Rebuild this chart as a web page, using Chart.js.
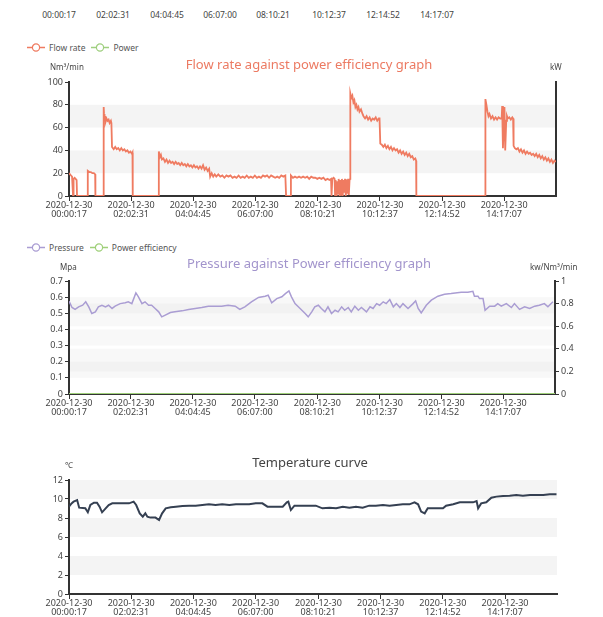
<!DOCTYPE html>
<html>
<head>
<meta charset="utf-8">
<title>Flow, pressure and temperature</title>
<script src="https://cdn.jsdelivr.net/npm/chart.js@4.4.1/dist/chart.umd.min.js"></script>
<style>
  html, body { margin: 0; padding: 0; background: #fff; }
  body { width: 603px; height: 617px; position: relative; overflow: hidden; font-family: "Noto Sans", sans-serif; }
  canvas { position: absolute; left: 0; }
  .t { position: absolute; white-space: nowrap; line-height: 1; transform: translate(-50%, -50%); }
  .tl { position: absolute; white-space: nowrap; line-height: 1; transform: translateY(-50%); }
  .stamp { font-size: 8.5px; color: #444; }
  .title { font-size: 13px; }
  .unit { font-size: 8px; color: #444; }
  .legend { position: absolute; display: flex; align-items: center; gap: 6px; font-size: 8.5px; color: #555; transform: translateY(-50%); }
  .legend span { display: flex; align-items: center; gap: 4px; }
</style>
</head>
<body>
<canvas id="flowChart" width="603" height="150" style="top:72px"></canvas>
<canvas id="pressureChart" width="603" height="149" style="top:271px"></canvas>
<canvas id="tempChart" width="603" height="150" style="top:470px"></canvas>
<script>
// x axis, minutes after 2020-12-30 00:00:17
const tickDate = '2020-12-30';
const tickTimes = ['00:00:17', '02:02:31', '04:04:45', '06:07:00', '08:10:21', '10:12:37', '12:14:52', '14:17:07'];
const tickMinutes = [0, 122.23, 244.47, 366.72, 490.07, 612.33, 734.58, 856.83];
const lastMinute = 959;

// stamps left over from the chart above (cut off)
const topStamps = ['00:00:17', '02:02:31', '04:04:45', '06:07:00', '08:10:21', '10:12:37', '12:14:52', '14:17:07'];
const topStampX = [59, 113, 167, 220, 273, 329, 383, 437];

// Flow rate (Nm³/min)
const flowTime = [0, 2, 4, 6, 7.5, 8, 9, 11, 13, 15, 15.8, 36.8, 37, 40, 43, 46, 49, 51.5, 52, 68,
  68.3, 69, 70, 71, 72, 74, 76, 78, 80, 82.5, 83.5, 84.7, 88, 91, 94, 97, 100, 103, 106, 109, 112, 115, 118, 121, 124, 125, 125.5,
  176.5, 176.9, 179, 181, 183, 186, 189, 192, 195, 198, 201, 204, 207, 210, 213, 216, 219, 222, 225, 228, 231, 234, 237, 240,
  243, 246, 249, 252, 255, 258, 261, 264, 267, 270, 273, 276, 278, 281, 284, 287, 290, 294, 298, 302, 306, 310, 314, 318, 322,
  326, 330, 334, 338, 342, 346, 350, 354, 358, 362, 366, 370, 374, 378, 382, 386, 390, 394, 398, 402, 406, 410, 414, 418, 422,
  426, 427, 427.5, 436, 437, 441, 445, 449, 453, 457, 461, 465, 469, 473, 477, 481, 485, 489, 493, 497, 501, 505, 509, 513, 516,
  517, 518.5, 521, 523, 524, 525, 527, 528.5, 530, 531, 533, 534.5, 536, 537.5, 539, 540.5, 542, 543.5, 545, 546.5, 548, 549.5,
  551, 552.5, 553.5, 554, 556, 558, 560, 562, 564, 566, 568, 570, 572, 575, 578, 580, 583, 586, 589, 592, 595, 598, 601, 604,
  607, 610, 611.5, 613, 616, 619, 622, 625, 628, 631, 634, 637, 640, 643, 646, 649, 652, 655, 658, 661, 664, 667, 670, 673,
  676, 679, 682, 683.5, 684, 819.5, 820, 822, 824, 826, 828, 831, 834, 837, 840, 843, 846, 849, 852, 853, 854.5, 856, 857.5,
  859, 861, 862.5, 864, 867, 870, 873, 874.5, 875.5, 878, 881, 884, 887, 890, 893, 896, 899, 902, 905, 908, 911, 914, 917,
  920, 923, 926, 929, 932, 935, 938, 941, 944, 947, 950, 953, 956, 959];
const flowRate = [20, 19, 18, 17, 17, 0, 15, 16, 15, 14, 0, 0, 22, 21, 21, 20, 20, 19, 0, 0,
  78, 72, 66, 70, 65, 68, 66, 67, 64, 66, 64, 43, 41, 43, 41, 42, 40, 42, 40, 41, 39, 40, 38, 39, 37, 38, 0,
  0, 39, 34, 36, 32, 33, 30, 32, 29, 31, 29, 30, 28, 30, 28, 29, 27, 29, 27, 28, 26, 28, 26, 27,
  25, 27, 25, 26, 24, 26, 24, 27, 23, 25, 22, 24, 17, 20, 17, 19, 17, 19, 17, 18, 16, 18, 17, 18, 16,
  17, 16, 18, 16, 17, 16, 18, 16, 17, 16, 18, 16, 17, 16, 18, 17, 18, 16, 18, 17, 16, 17, 16, 18, 17,
  18, 18, 0, 0, 18, 16, 17, 16, 17, 16, 17, 16, 17, 15, 17, 16, 16, 15, 16, 15, 16, 14, 15, 14, 15,
  0, 15, 16, 15, 0, 14, 0, 13, 2, 15, 0, 14, 1, 15, 0, 14, 3, 15, 0, 14, 2, 15,
  1, 14, 15, 90, 86, 88, 82, 84, 78, 80, 76, 78, 74, 76, 72, 70, 68, 70, 67, 69, 66, 68, 67, 69,
  66, 68, 68, 46, 45, 43, 45, 42, 44, 41, 43, 40, 42, 40, 41, 38, 40, 37, 39, 36, 38, 35, 37, 34,
  35, 32, 33, 31, 0, 0, 85, 80, 74, 70, 72, 68, 70, 67, 69, 67, 69, 68, 68, 79, 42, 60, 78,
  40, 66, 70, 68, 69, 67, 69, 68, 44, 42, 41, 42, 39, 41, 38, 40, 37, 39, 37, 38, 36, 37, 35,
  37, 34, 36, 33, 35, 32, 34, 31, 33, 30, 32, 29, 31, 30];
const powerKW = [];

// Pressure (Mpa) and power efficiency (kw/Nm³/min)
const pressureTime = [0, 6, 12, 19, 27, 33, 39, 45, 52, 58, 65, 72, 78, 85, 91, 101, 111, 117, 124, 132, 137, 144, 150, 157,
  163, 170, 177, 183, 190, 200, 209, 223, 236, 249, 262, 275, 288, 301, 314, 328, 337, 347, 360, 374, 387, 393, 400, 410,
  420, 427, 434, 439, 446, 456, 466, 472, 479, 485, 492, 498, 505, 511, 518, 525, 531, 538, 544, 551, 557, 564, 571, 577,
  587, 594, 600, 607, 613, 620, 626, 633, 640, 646, 653, 659, 669, 679, 684, 689, 695, 705, 715, 728, 741, 754, 774, 787,
  797, 800, 807, 810, 817, 821, 830, 840, 846, 853, 863, 873, 879, 889, 899, 909, 919, 928, 938, 945, 955];
const pressure = [0.575, 0.536, 0.524, 0.54, 0.55, 0.571, 0.54, 0.499, 0.509, 0.54, 0.55, 0.54, 0.55, 0.53, 0.544, 0.56,
  0.565, 0.571, 0.56, 0.626, 0.602, 0.56, 0.571, 0.55, 0.55, 0.53, 0.509, 0.478, 0.489, 0.505, 0.509, 0.515, 0.524, 0.53,
  0.536, 0.544, 0.544, 0.544, 0.55, 0.544, 0.524, 0.54, 0.571, 0.598, 0.606, 0.612, 0.565, 0.591, 0.602, 0.622, 0.638,
  0.602, 0.56, 0.53, 0.499, 0.478, 0.509, 0.54, 0.55, 0.53, 0.509, 0.54, 0.499, 0.519, 0.509, 0.54, 0.519, 0.536, 0.509,
  0.544, 0.519, 0.536, 0.509, 0.54, 0.53, 0.56, 0.55, 0.571, 0.56, 0.585, 0.54, 0.56, 0.536, 0.56, 0.53, 0.56, 0.577,
  0.53, 0.503, 0.55, 0.581, 0.606, 0.618, 0.622, 0.63, 0.63, 0.636, 0.606, 0.606, 0.591, 0.591, 0.519, 0.544, 0.544,
  0.56, 0.544, 0.56, 0.536, 0.56, 0.524, 0.54, 0.53, 0.544, 0.55, 0.56, 0.54, 0.571];
const efficiencyTime = [0, 959];
const efficiency = [0, 0];

// Temperature (℃)
const tempTime = [0, 5, 9, 16, 20, 32, 37, 42, 49, 55, 60, 65, 72, 78, 85, 91, 101, 118, 127, 132, 139, 145, 150, 154,
  160, 170, 177, 183, 190, 200, 210, 223, 236, 249, 262, 275, 288, 301, 315, 328, 341, 354, 367, 380, 390, 406, 420,
  428, 431, 436, 443, 459, 472, 485, 498, 512, 525, 538, 551, 564, 577, 590, 603, 617, 630, 643, 656, 669, 679, 686,
  692, 699, 705, 722, 735, 741, 755, 768, 794, 801, 804, 810, 820, 830, 840, 853, 866, 879, 892, 906, 919, 932, 945, 958];
const temperature = [9.19, 9.54, 9.72, 9.89, 9.09, 9.02, 8.6, 9.37, 9.61, 9.61, 9.19, 8.6, 9.02, 9.37, 9.54, 9.54, 9.54,
  9.54, 9.72, 9.37, 8.49, 8.14, 8.49, 8.14, 8.04, 8.04, 7.79, 8.49, 9.02, 9.12, 9.19, 9.26, 9.3, 9.3, 9.37, 9.44, 9.37,
  9.44, 9.37, 9.44, 9.44, 9.44, 9.54, 9.54, 9.19, 9.19, 9.19, 9.65, 9.72, 8.84, 9.3, 9.3, 9.3, 9.3, 9.02, 9.09, 9.02,
  9.19, 9.09, 9.19, 9.09, 9.3, 9.3, 9.37, 9.3, 9.37, 9.44, 9.44, 9.65, 9.44, 8.67, 8.49, 9.02, 9.02, 9.02, 9.3, 9.44,
  9.65, 9.65, 9.79, 9.02, 9.54, 9.65, 10.14, 10.25, 10.32, 10.35, 10.42, 10.35, 10.42, 10.42, 10.42, 10.49, 10.49];

const FONT = '"Noto Sans", sans-serif';
const AXIS = '#333';

const pairs = (xs, ys) => xs.map((x, i) => ({ x, y: ys[i] }));

// ECharts-like striped split areas
const bandsPlugin = {
    id: 'bands',
    beforeDraw(chart, args, opts) {
        const { ctx, chartArea: a } = chart;
        (opts.axes || []).forEach(id => {
            const sc = chart.scales[id];
            const ticks = sc.ticks;
            ctx.save();
            ctx.fillStyle = opts.color;
            for (let k = 1; k + 1 < ticks.length; k += 2) {
                const yLow = sc.getPixelForValue(ticks[k].value);
                const yHigh = sc.getPixelForValue(ticks[k + 1].value);
                ctx.fillRect(a.left, yHigh, a.right - a.left, yLow - yHigh);
            }
            ctx.restore();
        });
    }
};

function timeAxis() {
    return {
        type: 'linear', min: 0, max: lastMinute,
        afterBuildTicks: s => { s.ticks = tickMinutes.map(v => ({ value: v })); },
        afterFit: s => { s.height = 26; },
        ticks: {
            autoSkip: false, maxRotation: 0, padding: 0, color: '#444',
            font: { size: 9, family: FONT, lineHeight: 1 },
            callback: (v, i) => [tickDate, tickTimes[i]]
        },
        grid: { drawOnChartArea: false, drawTicks: true, tickLength: 5, tickColor: AXIS },
        border: { display: true, color: AXIS, width: 2 }
    };
}

function valueAxis(position, min, max, step, width, labels) {
    return {
        type: 'linear', position, min, max,
        afterFit: s => { s.width = width; },
        ticks: {
            display: labels, stepSize: step, padding: 2, color: '#444', font: { size: 9, family: FONT },
            callback: v => String(+v.toFixed(2))
        },
        grid: { drawOnChartArea: false, drawTicks: labels, tickLength: 4, tickColor: AXIS },
        border: { display: true, color: AXIS, width: 2 }
    };
}

function lineSet(label, data, color, axis, width) {
    return { label, data, yAxisID: axis, borderColor: color, backgroundColor: '#fff', borderWidth: width || 1.5, pointRadius: 0, tension: 0 };
}

function baseOptions(scales, bands, padRight) {
    return {
        responsive: false, animation: false,
        layout: { padding: { top: 10, right: padRight, left: 0, bottom: 0 } },
        scales,
        plugins: { legend: { display: false }, title: { display: false }, tooltip: { enabled: false }, bands }
    };
}

const flowChart = new Chart(document.getElementById('flowChart'), {
    type: 'line',
    data: { datasets: [
        lineSet('Flow rate', pairs(flowTime, flowRate), '#ef7b61', 'y', 1.8),
        lineSet('Power', pairs([], powerKW), '#9fcf7f', 'y1')
    ] },
    options: baseOptions({
        x: timeAxis(),
        y: valueAxis('left', 0, 100, 20, 69, true),
        y1: valueAxis('right', 0, 100, 20, 47, false)
    }, { axes: ['y'], color: 'rgba(200,200,200,0.2)' }, 0),
    plugins: [bandsPlugin]
});

const pressureChart = new Chart(document.getElementById('pressureChart'), {
    type: 'line',
    data: { datasets: [
        lineSet('Pressure', pairs(pressureTime, pressure), '#aa9dd3', 'y'),
        lineSet('Power efficiency', pairs(efficiencyTime, efficiency), '#9fd07a', 'y1', 2)
    ] },
    options: baseOptions({
        x: timeAxis(),
        y: valueAxis('left', 0, 0.7, 0.1, 69, true),
        y1: valueAxis('right', 0, 1, 0.2, 48, true)
    }, { axes: ['y', 'y1'], color: 'rgba(200,200,200,0.12)' }, 0),
    plugins: [bandsPlugin]
});

const tempChart = new Chart(document.getElementById('tempChart'), {
    type: 'line',
    data: { datasets: [
        lineSet('Temperature', pairs(tempTime, temperature), '#354052', 'y', 2)
    ] },
    options: baseOptions({
        x: timeAxis(),
        y: valueAxis('left', 0, 12, 2, 69, true)
    }, { axes: ['y'], color: 'rgba(200,200,200,0.2)' }, 46),
    plugins: [bandsPlugin]
});

// texts around the charts
function addText(text, x, y, cls, style, centered) {
    const el = document.createElement('div');
    el.className = (centered ? 't ' : 'tl ') + cls;
    el.textContent = text;
    el.style.left = x + 'px';
    el.style.top = y + 'px';
    if (style) Object.assign(el.style, style);
    document.body.appendChild(el);
    return el;
}

function addLegend(chart, x, y) {
    const box = document.createElement('div');
    box.className = 'legend';
    box.style.left = x + 'px';
    box.style.top = y + 'px';
    chart.data.datasets.forEach(ds => {
        const item = document.createElement('span');
        const c = ds.borderColor;
        item.innerHTML = '<svg width="18" height="10" viewBox="0 0 18 10">' +
            '<line x1="0" y1="5" x2="18" y2="5" stroke="' + c + '" stroke-width="1.3"/>' +
            '<circle cx="9" cy="5" r="3.6" fill="#fff" stroke="' + c + '" stroke-width="1.2"/></svg>';
        item.appendChild(document.createTextNode(ds.label));
        box.appendChild(item);
    });
    document.body.appendChild(box);
}

topStamps.forEach((s, i) => addText(s, topStampX[i], 15, 'stamp', null, true));

addLegend(flowChart, 27, 47);
addText('Flow rate against power efficiency graph', 309, 64, 'title', { color: '#ec7a62' }, true);
addText('Nm³/min', 50, 67, 'unit');
addText('kW', 550, 67, 'unit');

addLegend(pressureChart, 27, 247);
addText('Pressure against Power efficiency graph', 309, 263, 'title', { color: '#a294cc' }, true);
addText('Mpa', 60, 267, 'unit');
addText('kw/Nm³/min', 530, 267, 'unit');

addText('Temperature curve', 310, 462, 'title', { color: '#444' }, true);
addText('℃', 65, 465, 'unit');
</script>
</body>
</html>
